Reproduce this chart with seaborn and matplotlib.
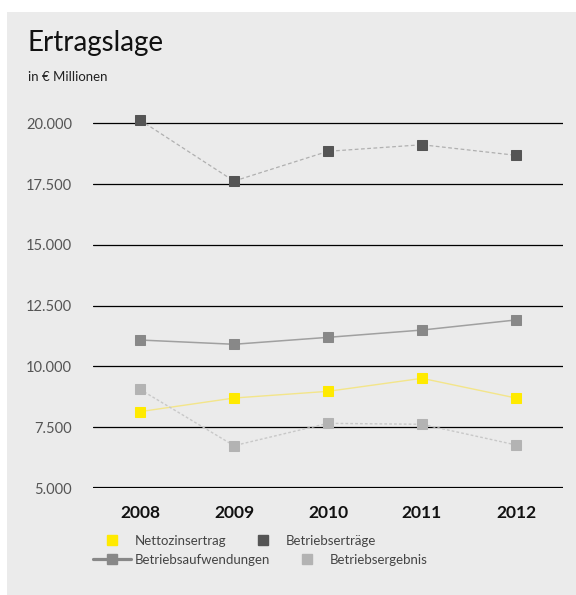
import matplotlib
matplotlib.use("Agg")
import matplotlib.pyplot as plt
import matplotlib.patches as mpatches
from matplotlib.lines import Line2D
import seaborn as sns
import pandas as pd

years = ["2008", "2009", "2010", "2011", "2012"]
nettozinsertrag = [8140, 8700, 8975, 9510, 8700]
betriebsertraege = [20130, 17620, 18845, 19115, 18680]
betriebsaufwendungen = [11085, 10910, 11195, 11495, 11910]
betriebsergebnis = [9055, 6740, 7660, 7620, 6770]
yticks = [5000, 7500, 10000, 12500, 15000, 17500, 20000]
ytick_labels = ["5.000", "7.500", "10.000", "12.500", "15.000", "17.500", "20.000"]

sns.set_theme(style="white")
plt.rcParams["font.family"] = ["Lato", "DejaVu Sans"]

W, H = 576, 595
fig = plt.figure(figsize=(W / 100, H / 100), dpi=100, facecolor="white")
fig.patches.append(mpatches.Rectangle((7 / W, 0), 1, 1 - 12 / H, transform=fig.transFigure,
                                      facecolor="#ebebeb", edgecolor="none", zorder=-10))

ax = fig.add_axes([93 / W, (H - 488) / H, 470 / W, 389.1 / H])
ax.set_facecolor("none")

series = [
    ("Betriebserträge", betriebsertraege, "#555555", "#b0b0b0", (0, (3, 2)), 0.9),
    ("Betriebsaufwendungen", betriebsaufwendungen, "#888888", "#a0a0a0", "-", 1.1),
    ("Nettozinsertrag", nettozinsertrag, "#ffea00", "#f3e58a", "-", 1.0),
    ("Betriebsergebnis", betriebsergebnis, "#b3b3b3", "#c8c8c8", (0, (2, 1.5)), 1.0),
]
for name, vals, mc, lc, ls, lw in series:
    df = pd.DataFrame({"Jahr": years, "Wert": vals})
    sns.lineplot(data=df, x="Jahr", y="Wert", ax=ax, color=lc, linestyle=ls, linewidth=lw,
                 marker="s", markersize=7.5, markerfacecolor=mc, markeredgecolor=mc,
                 sort=False, zorder=3)

ax.set_xlim(-0.5, 4.5)
ax.set_ylim(5000, 21000)
ax.set_yticks(yticks)
ax.set_yticklabels(ytick_labels, fontsize=10.5, color="#555555")
for y in yticks:
    ax.axhline(y, color="black", linewidth=2.3 if y == 5000 else 0.9, zorder=1)
ax.set_xticks(range(len(years)))
ax.set_xticklabels(years, fontsize=12.5, fontweight="bold", color="#111111")
ax.tick_params(axis="y", length=0, pad=15)
ax.tick_params(axis="x", length=0, pad=12)
for s in ax.spines.values():
    s.set_visible(False)
ax.set_xlabel("")
ax.set_ylabel("")

fig.text(28 / W, 1 - 43 / H, "Ertragslage", fontsize=20, color="#111111",
         va="center", ha="left")
fig.text(28 / W, 1 - 77 / H, "in € Millionen", fontsize=9.5, color="#222222",
         va="center", ha="left")

def sq(c):
    return Line2D([], [], linestyle="none", marker="s", markersize=6.5,
                  markerfacecolor=c, markeredgecolor=c)

row1 = [sq("#ffea00"), sq("#555555")]
row2 = [Line2D([], [], color="#888888", linewidth=2.3, marker="s", markersize=6.5,
               markerfacecolor="#888888", markeredgecolor="#888888"), sq("#b3b3b3")]
leg_kw = dict(ncol=2, frameon=False, fontsize=9.5, handlelength=2.9, handletextpad=0.3,
              columnspacing=1.3, labelcolor="#444444", borderpad=0, borderaxespad=0)
l1 = fig.legend(row1, ["Nettozinsertrag", "Betriebserträge"], loc="center left",
                bbox_to_anchor=(93 / W, 1 - 541 / H), **leg_kw)
l2 = fig.legend(row2, ["Betriebsaufwendungen", "Betriebsergebnis"], loc="center left",
                bbox_to_anchor=(93 / W, 1 - 560 / H), **leg_kw)

fig.savefig("out.png", dpi=100, facecolor="white")
